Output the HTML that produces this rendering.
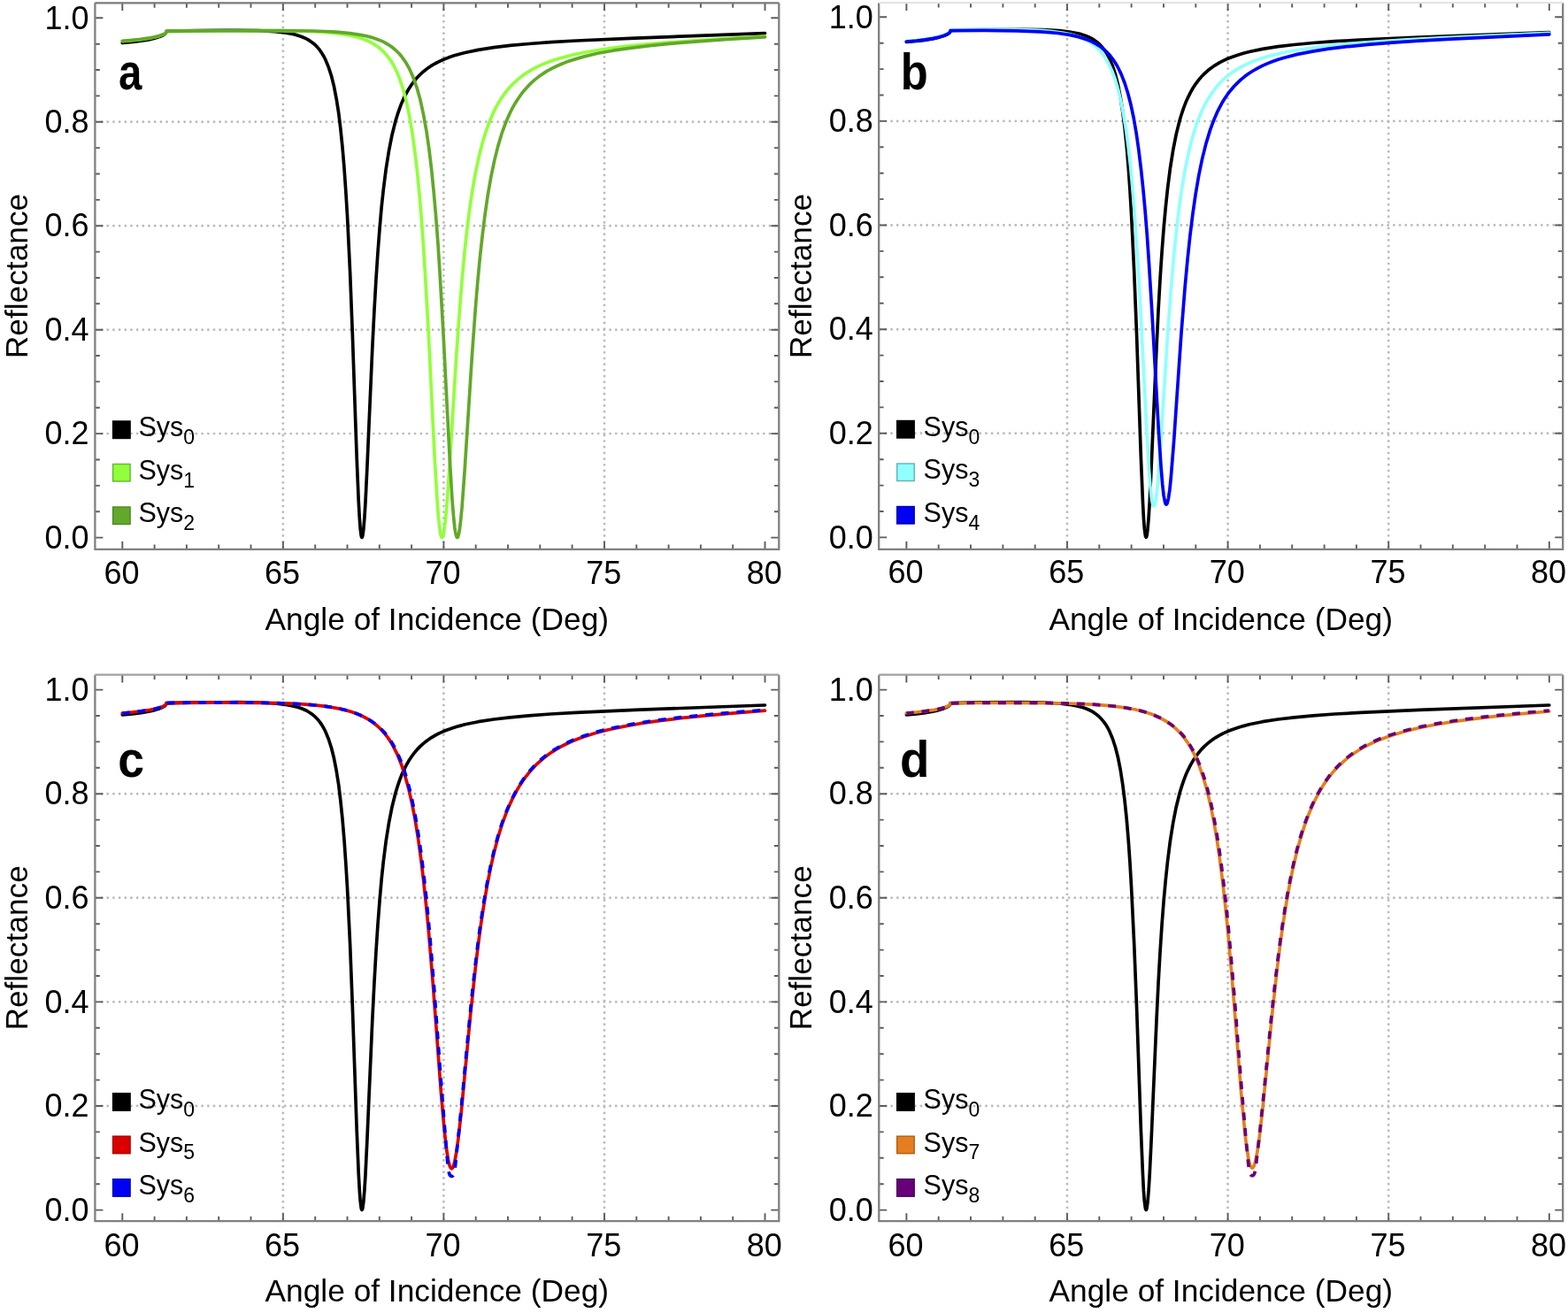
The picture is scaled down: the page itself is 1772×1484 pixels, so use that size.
<!DOCTYPE html>
<html><head><meta charset="utf-8"><title>Reflectance vs Angle of Incidence</title>
<style>
html,body{margin:0;padding:0;background:#fff;}
body{width:1772px;height:1484px;overflow:hidden;}
svg{display:block;}
.grid line{stroke:#bcbcbc;stroke-width:2.9;stroke-dasharray:0 6.68;stroke-linecap:round;}
.tick{stroke:#5c5c5c;stroke-width:1.9;fill:none;}
.frame{stroke:#808080;stroke-width:2.3;fill:none;}
.crv{fill:none;stroke-width:3.7;stroke-linejoin:round;stroke-linecap:round;}
.dsh{stroke-linecap:butt;stroke-linejoin:round;}
text{font-family:'Liberation Sans', Arial, Helvetica, sans-serif;fill:#000;}
.tl{font-size:36px;}
.al{font-size:35.3px;}
.pl{font-size:57px;font-weight:bold;}
.lg{font-size:30.5px;}
.sub{font-size:23px;}
</style></head>
<body>
<svg width="1772" height="1484" viewBox="0 0 1772 1484">
<rect width="1772" height="1484" fill="#fff"/>
<g class="grid"><line x1="319.9" y1="4.3" x2="319.9" y2="619.8"/><line x1="501.4" y1="4.3" x2="501.4" y2="619.8"/><line x1="683.0" y1="4.3" x2="683.0" y2="619.8"/><line x1="108.4" y1="490.1" x2="879.3" y2="490.1"/><line x1="108.4" y1="372.7" x2="879.3" y2="372.7"/><line x1="108.4" y1="255.2" x2="879.3" y2="255.2"/><line x1="108.4" y1="137.8" x2="879.3" y2="137.8"/></g>
<path class="tick" d="M138.3 620.8v-8.8M138.3 3.3v8.8M174.6 620.8v-5.4M174.6 3.3v5.4M210.9 620.8v-5.4M210.9 3.3v5.4M247.2 620.8v-5.4M247.2 3.3v5.4M283.5 620.8v-5.4M283.5 3.3v5.4M319.9 620.8v-8.8M319.9 3.3v8.8M356.2 620.8v-5.4M356.2 3.3v5.4M392.5 620.8v-5.4M392.5 3.3v5.4M428.8 620.8v-5.4M428.8 3.3v5.4M465.1 620.8v-5.4M465.1 3.3v5.4M501.4 620.8v-8.8M501.4 3.3v8.8M537.7 620.8v-5.4M537.7 3.3v5.4M574.0 620.8v-5.4M574.0 3.3v5.4M610.3 620.8v-5.4M610.3 3.3v5.4M646.6 620.8v-5.4M646.6 3.3v5.4M683.0 620.8v-8.8M683.0 3.3v8.8M719.3 620.8v-5.4M719.3 3.3v5.4M755.6 620.8v-5.4M755.6 3.3v5.4M791.9 620.8v-5.4M791.9 3.3v5.4M828.2 620.8v-5.4M828.2 3.3v5.4M864.5 620.8v-8.8M864.5 3.3v8.8M107.4 607.6h9.0M880.3 607.6h-9.0M107.4 578.2h5.4M880.3 578.2h-5.4M107.4 548.9h5.4M880.3 548.9h-5.4M107.4 519.5h5.4M880.3 519.5h-5.4M107.4 490.1h9.0M880.3 490.1h-9.0M107.4 460.8h5.4M880.3 460.8h-5.4M107.4 431.4h5.4M880.3 431.4h-5.4M107.4 402.0h5.4M880.3 402.0h-5.4M107.4 372.7h9.0M880.3 372.7h-9.0M107.4 343.3h5.4M880.3 343.3h-5.4M107.4 314.0h5.4M880.3 314.0h-5.4M107.4 284.6h5.4M880.3 284.6h-5.4M107.4 255.2h9.0M880.3 255.2h-9.0M107.4 225.9h5.4M880.3 225.9h-5.4M107.4 196.5h5.4M880.3 196.5h-5.4M107.4 167.1h5.4M880.3 167.1h-5.4M107.4 137.8h9.0M880.3 137.8h-9.0M107.4 108.4h5.4M880.3 108.4h-5.4M107.4 79.0h5.4M880.3 79.0h-5.4M107.4 49.7h5.4M880.3 49.7h-5.4M107.4 20.3h9.0M880.3 20.3h-9.0"/>
<path class="frame" d="M107.4 3.3V620.8H880.3V3.3"/>
<path class="frame" style="stroke:#7a7a7a" d="M107.4 3.3H880.3"/>
<path class="crv" stroke="#000000" d="M138.3 48.5L149.6 47.4 159.4 46.2 167.7 44.9 174.8 43.3 180.2 41.6 184.4 39.7 185.9 38.7 187.0 37.8 187.7 36.7 188.0 35.3 188.6 35.2 222.5 34.6 267.4 34.4 292.3 34.7 310.6 35.7 322.2 37.0 332.0 38.8 336.2 39.9 340.2 41.2 343.8 42.7 347.3 44.4 350.5 46.4 353.4 48.5 356.2 50.8 358.7 53.4 361.1 56.3 363.4 59.6 365.6 63.2 367.6 67.0 371.2 75.6 374.5 85.8 377.4 97.4 380.1 111.3 382.7 127.6 384.8 145.0 387.0 166.4 389.0 190.2 390.8 216.2 392.5 243.6 395.6 307.4 398.3 377.1 403.2 517.9 405.2 566.0 406.3 585.7 407.2 597.6 408.1 604.9 408.4 606.5 409.0 607.4 409.4 607.1 409.9 605.3 410.8 598.6 411.9 585.4 413.0 567.6 414.8 530.4 420.8 393.3 423.0 350.0 425.0 315.2 427.0 285.0 429.0 259.0 431.1 234.7 433.3 214.1 436.2 191.2 439.5 170.5 443.1 152.2 447.1 136.4 449.3 129.2 451.5 122.8 453.8 116.7 456.4 110.9 459.1 105.5 462.0 100.4 464.9 96.0 468.2 91.6 471.4 87.7 475.1 84.0 478.7 80.7 482.7 77.6 486.9 74.7 491.4 72.0 496.1 69.6 501.2 67.3 506.7 65.1 512.5 63.1 518.8 61.2 525.5 59.5 540.6 56.4 557.9 53.7 576.4 51.4 597.6 49.5 622.3 47.7 651.2 46.0 717.6 43.1 864.5 37.7"/>
<path class="crv" stroke="#92ff3c" d="M138.3 46.6L149.6 45.7 159.4 44.6 167.7 43.4 174.8 42.0 180.2 40.6 184.2 39.1 185.9 38.3 187.1 37.3 187.9 36.3 188.0 35.5 189.1 35.4 245.2 34.8 307.3 34.6 342.0 35.2 355.6 35.7 367.4 36.4 382.3 37.9 394.8 39.9 400.5 41.1 405.5 42.5 410.3 44.0 414.8 45.8 419.0 47.8 423.0 50.1 426.6 52.5 430.1 55.3 433.3 58.3 436.2 61.4 439.1 65.1 441.9 69.0 444.4 73.2 446.8 77.7 449.1 82.7 451.3 88.1 455.3 99.8 459.1 114.1 462.5 130.2 465.6 148.1 468.5 168.7 471.3 191.9 473.6 215.7 476.0 243.5 478.2 273.1 480.3 306.7 484.2 375.1 491.2 518.0 494.0 564.3 495.4 583.4 496.9 597.2 497.6 602.0 498.3 605.3 498.9 606.8 499.2 607.3 499.6 607.5 500.1 607.0 500.7 605.7 501.9 599.5 503.2 589.5 504.7 573.9 507.8 530.6 515.6 404.1 519.6 347.7 522.1 316.6 524.8 287.4 527.5 262.0 530.4 238.7 533.7 216.3 537.3 195.6 541.2 177.4 545.3 161.0 549.9 146.4 554.8 133.5 557.5 127.4 560.2 121.9 563.1 116.6 566.0 111.9 569.3 107.1 572.7 102.6 576.2 98.5 580.0 94.5 584.0 90.8 588.2 87.3 592.5 84.1 597.3 81.0 602.2 78.2 607.4 75.4 612.9 72.9 618.7 70.5 624.9 68.3 631.4 66.2 645.9 62.3 661.7 59.0 679.7 56.0 700.2 53.2 723.6 50.7 750.1 48.4 781.0 46.1 817.7 43.8 864.5 41.1"/>
<path class="crv" stroke="#62a82a" d="M138.3 46.4L149.4 45.4 159.2 44.4 167.5 43.2 174.6 41.9 180.1 40.5 184.1 39.1 185.7 38.3 187.0 37.4 187.7 36.6 188.0 35.5 189.3 35.4 249.8 34.7 317.1 34.6 353.4 35.0 367.6 35.5 379.9 36.2 395.4 37.6 408.4 39.6 414.3 40.8 419.5 42.1 424.4 43.7 429.1 45.4 433.5 47.4 437.5 49.6 441.3 52.0 444.9 54.8 448.2 57.7 451.3 60.8 454.2 64.3 457.1 68.3 459.6 72.3 462.2 76.9 464.5 81.7 466.9 87.3 471.1 99.1 474.9 112.7 478.5 129.1 481.8 147.3 484.9 168.5 487.6 191.0 490.1 216.0 492.5 243.1 494.9 274.3 497.0 307.2 501.0 377.1 508.3 519.6 511.0 564.5 512.5 583.1 513.9 596.7 514.7 601.6 515.4 605.0 516.1 607.0 516.5 607.4 516.8 607.5 517.4 607.0 518.1 605.1 519.4 598.7 520.6 588.6 522.1 573.2 525.2 531.0 533.2 405.3 537.2 350.2 539.7 319.7 542.4 290.9 545.2 265.7 548.1 242.5 551.3 220.2 555.0 199.3 558.8 181.1 562.8 165.1 567.1 150.7 572.0 137.4 574.6 131.4 577.3 125.7 580.2 120.1 583.1 115.2 586.4 110.2 589.6 105.7 593.1 101.4 596.7 97.4 600.5 93.6 604.7 89.9 608.9 86.6 613.4 83.4 618.1 80.4 623.2 77.6 628.5 75.0 634.1 72.5 640.1 70.1 646.5 67.9 660.3 63.9 675.5 60.3 692.6 57.2 712.0 54.3 734.1 51.6 759.2 49.2 788.2 46.8 822.4 44.4 864.5 41.8"/>
<text class="tl" x="100.6" y="619.8" text-anchor="end">0.0</text>
<text class="tl" x="100.6" y="502.3" text-anchor="end">0.2</text>
<text class="tl" x="100.6" y="384.9" text-anchor="end">0.4</text>
<text class="tl" x="100.6" y="267.4" text-anchor="end">0.6</text>
<text class="tl" x="100.6" y="150.0" text-anchor="end">0.8</text>
<text class="tl" x="100.6" y="32.5" text-anchor="end">1.0</text>
<text class="tl" x="137.5" y="659.9" text-anchor="middle">60</text>
<text class="tl" x="319.1" y="659.9" text-anchor="middle">65</text>
<text class="tl" x="500.6" y="659.9" text-anchor="middle">70</text>
<text class="tl" x="682.2" y="659.9" text-anchor="middle">75</text>
<text class="tl" x="863.7" y="659.9" text-anchor="middle">80</text>
<text class="al" x="493.8" y="712.0" text-anchor="middle">Angle of Incidence (Deg)</text>
<text class="al" transform="translate(31.0,312.0) rotate(-90)" x="0" y="0" text-anchor="middle">Reflectance</text>
<text class="pl" transform="translate(134.0,101.0) scale(0.83,1)">a</text>
<rect x="127.6" y="476.0" width="19.5" height="19.5" fill="#000000" stroke="#000000" stroke-width="1.4"/>
<text class="lg" x="156.5" y="493.3">Sys<tspan class="sub" dy="8.8">0</tspan></text>
<rect x="127.6" y="524.5" width="19.5" height="19.5" fill="#92ff3c" stroke="#64b82e" stroke-width="1.4"/>
<text class="lg" x="156.5" y="541.8">Sys<tspan class="sub" dy="8.8">1</tspan></text>
<rect x="127.6" y="573.0" width="19.5" height="19.5" fill="#62a82a" stroke="#4a8a1e" stroke-width="1.4"/>
<text class="lg" x="156.5" y="590.3">Sys<tspan class="sub" dy="8.8">2</tspan></text>
<g class="grid"><line x1="1206.0" y1="4.2" x2="1206.0" y2="619.8"/><line x1="1387.6" y1="4.2" x2="1387.6" y2="619.8"/><line x1="1569.2" y1="4.2" x2="1569.2" y2="619.8"/><line x1="994.2" y1="489.8" x2="1765.2" y2="489.8"/><line x1="994.2" y1="372.2" x2="1765.2" y2="372.2"/><line x1="994.2" y1="254.5" x2="1765.2" y2="254.5"/><line x1="994.2" y1="136.9" x2="1765.2" y2="136.9"/></g>
<path class="tick" d="M1024.4 620.8v-8.8M1024.4 3.2v8.8M1060.7 620.8v-5.4M1060.7 3.2v5.4M1097.0 620.8v-5.4M1097.0 3.2v5.4M1133.4 620.8v-5.4M1133.4 3.2v5.4M1169.7 620.8v-5.4M1169.7 3.2v5.4M1206.0 620.8v-8.8M1206.0 3.2v8.8M1242.3 620.8v-5.4M1242.3 3.2v5.4M1278.6 620.8v-5.4M1278.6 3.2v5.4M1315.0 620.8v-5.4M1315.0 3.2v5.4M1351.3 620.8v-5.4M1351.3 3.2v5.4M1387.6 620.8v-8.8M1387.6 3.2v8.8M1423.9 620.8v-5.4M1423.9 3.2v5.4M1460.2 620.8v-5.4M1460.2 3.2v5.4M1496.6 620.8v-5.4M1496.6 3.2v5.4M1532.9 620.8v-5.4M1532.9 3.2v5.4M1569.2 620.8v-8.8M1569.2 3.2v8.8M1605.5 620.8v-5.4M1605.5 3.2v5.4M1641.8 620.8v-5.4M1641.8 3.2v5.4M1678.2 620.8v-5.4M1678.2 3.2v5.4M1714.5 620.8v-5.4M1714.5 3.2v5.4M1750.8 620.8v-8.8M1750.8 3.2v8.8M993.2 607.4h9.0M1766.2 607.4h-9.0M993.2 578.0h5.4M1766.2 578.0h-5.4M993.2 548.6h5.4M1766.2 548.6h-5.4M993.2 519.2h5.4M1766.2 519.2h-5.4M993.2 489.8h9.0M1766.2 489.8h-9.0M993.2 460.4h5.4M1766.2 460.4h-5.4M993.2 431.0h5.4M1766.2 431.0h-5.4M993.2 401.6h5.4M1766.2 401.6h-5.4M993.2 372.2h9.0M1766.2 372.2h-9.0M993.2 342.8h5.4M1766.2 342.8h-5.4M993.2 313.3h5.4M1766.2 313.3h-5.4M993.2 283.9h5.4M1766.2 283.9h-5.4M993.2 254.5h9.0M1766.2 254.5h-9.0M993.2 225.1h5.4M1766.2 225.1h-5.4M993.2 195.7h5.4M1766.2 195.7h-5.4M993.2 166.3h5.4M1766.2 166.3h-5.4M993.2 136.9h9.0M1766.2 136.9h-9.0M993.2 107.5h5.4M1766.2 107.5h-5.4M993.2 78.1h5.4M1766.2 78.1h-5.4M993.2 48.7h5.4M1766.2 48.7h-5.4M993.2 19.3h9.0M1766.2 19.3h-9.0"/>
<path class="frame" d="M993.2 3.2V620.8H1766.2V3.2"/>
<path class="frame" style="stroke:#e4e4e4" d="M993.2 3.2H1766.2"/>
<path class="crv" stroke="#000000" d="M1024.4 47.5L1035.7 46.5 1045.5 45.3 1053.8 43.9 1060.9 42.3 1066.3 40.6 1070.5 38.7 1072.0 37.8 1073.1 36.8 1073.8 35.8 1074.2 34.3 1074.7 34.3 1108.7 33.6 1153.5 33.4 1178.4 33.7 1196.7 34.7 1208.4 36.0 1218.2 37.8 1222.3 38.9 1226.3 40.2 1230.0 41.7 1233.4 43.4 1236.7 45.4 1239.6 47.5 1242.3 49.9 1244.9 52.5 1247.2 55.3 1249.6 58.6 1251.8 62.3 1253.8 66.1 1257.4 74.7 1260.7 84.9 1263.6 96.5 1266.3 110.4 1268.8 126.8 1271.0 144.2 1273.2 165.6 1275.2 189.4 1277.0 215.4 1278.6 242.9 1281.7 306.8 1284.5 376.6 1289.4 517.6 1291.4 565.8 1292.4 585.5 1293.3 597.4 1294.3 604.7 1294.6 606.3 1295.2 607.2 1295.5 606.9 1296.1 605.1 1297.0 598.4 1298.1 585.2 1299.2 567.3 1301.0 530.1 1307.0 392.8 1309.1 349.4 1311.1 314.6 1313.1 284.4 1315.1 258.3 1317.3 234.0 1319.5 213.3 1322.4 190.4 1325.7 169.7 1329.3 151.4 1333.3 135.5 1335.5 128.3 1337.7 121.9 1340.0 115.8 1342.6 110.1 1345.3 104.6 1348.2 99.5 1351.1 95.1 1354.4 90.7 1357.6 86.8 1361.3 83.1 1364.9 79.8 1368.9 76.7 1373.1 73.8 1377.6 71.1 1382.3 68.6 1387.4 66.3 1392.9 64.2 1398.7 62.2 1405.0 60.3 1411.8 58.5 1426.8 55.4 1444.1 52.7 1462.6 50.5 1483.8 48.5 1508.5 46.7 1537.4 45.1 1603.9 42.1 1750.8 36.7"/>
<path class="crv" stroke="#90ffff" d="M1024.4 46.5L1035.7 45.5 1045.5 44.3 1053.8 42.9 1060.9 41.4 1066.3 39.7 1070.5 37.9 1072.9 36.2 1073.8 35.0 1074.2 33.6 1074.9 33.6 1108.8 33.1 1145.7 33.3 1170.4 34.1 1180.6 34.7 1189.5 35.5 1201.8 37.3 1207.3 38.3 1212.4 39.6 1217.1 41.0 1221.4 42.6 1225.4 44.3 1229.2 46.3 1232.9 48.5 1236.1 50.9 1239.4 53.7 1242.3 56.6 1245.0 59.8 1247.8 63.4 1250.1 67.1 1252.5 71.2 1256.5 79.7 1260.3 90.0 1263.7 101.6 1266.8 114.5 1269.7 129.3 1272.5 146.2 1275.0 165.1 1277.6 187.7 1279.7 210.5 1281.7 234.5 1285.7 292.8 1289.2 354.1 1295.9 487.3 1298.4 530.0 1299.9 548.9 1301.2 561.2 1301.9 566.2 1302.6 569.7 1303.2 571.3 1303.5 571.9 1303.9 572.1 1304.4 571.7 1305.0 570.5 1306.1 565.7 1307.3 556.3 1308.6 543.5 1311.7 502.0 1319.7 376.7 1323.7 322.8 1326.4 291.5 1329.1 264.2 1332.0 239.3 1335.1 216.8 1338.7 194.7 1342.6 175.6 1346.7 158.4 1351.3 143.3 1353.8 136.1 1356.4 129.7 1359.1 123.5 1361.8 118.0 1364.9 112.4 1368.0 107.5 1371.3 102.8 1374.9 98.1 1378.5 94.1 1382.3 90.2 1386.3 86.7 1390.7 83.2 1395.2 80.1 1400.1 77.1 1405.2 74.3 1410.7 71.7 1416.5 69.3 1422.6 67.0 1429.2 64.8 1436.1 62.9 1451.3 59.2 1468.8 56.0 1487.7 53.3 1509.1 50.9 1533.8 48.7 1562.5 46.6 1594.1 44.7 1631.9 42.7 1750.8 37.4"/>
<path class="crv" stroke="#0000f5" d="M1024.4 47.0L1035.7 46.0 1045.5 44.9 1053.8 43.6 1060.9 42.1 1066.3 40.5 1070.5 38.7 1073.1 36.9 1073.8 35.9 1074.2 34.6 1074.7 34.6 1112.1 34.3 1149.3 34.8 1175.3 35.8 1186.0 36.6 1195.5 37.5 1208.5 39.4 1214.4 40.6 1219.6 41.9 1224.5 43.4 1229.2 45.1 1233.6 46.9 1237.6 49.0 1241.4 51.3 1244.9 53.7 1248.3 56.5 1251.4 59.4 1254.3 62.6 1257.2 66.3 1259.9 70.3 1262.5 74.5 1264.8 79.0 1267.0 83.6 1271.0 93.8 1274.6 105.3 1278.1 118.8 1281.2 133.5 1284.1 150.2 1286.8 169.0 1289.5 191.3 1291.9 214.0 1294.1 238.0 1296.3 265.4 1298.4 296.3 1302.2 358.4 1309.3 486.2 1312.1 528.0 1313.7 547.4 1315.1 560.0 1316.6 567.7 1317.3 569.6 1317.7 570.1 1318.0 570.2 1318.6 569.8 1319.3 568.2 1320.6 562.6 1321.9 553.5 1323.3 539.7 1326.6 498.7 1334.9 377.6 1339.1 325.0 1342.0 293.6 1344.9 266.2 1348.0 241.2 1351.1 219.8 1354.7 198.5 1358.7 179.1 1362.9 162.4 1367.6 146.9 1370.2 139.8 1372.7 133.4 1375.4 127.2 1378.2 121.7 1381.2 116.0 1384.3 111.0 1387.6 106.2 1391.1 101.7 1394.7 97.5 1398.5 93.6 1402.5 89.9 1406.8 86.3 1411.4 83.0 1416.1 80.0 1421.2 77.1 1426.5 74.4 1432.1 71.9 1438.1 69.5 1444.4 67.3 1451.3 65.2 1466.2 61.4 1483.1 58.1 1501.5 55.2 1522.2 52.7 1545.8 50.4 1573.2 48.2 1603.5 46.2 1639.8 44.1 1750.8 38.8"/>
<text class="tl" x="986.7" y="619.6" text-anchor="end">0.0</text>
<text class="tl" x="986.7" y="502.0" text-anchor="end">0.2</text>
<text class="tl" x="986.7" y="384.4" text-anchor="end">0.4</text>
<text class="tl" x="986.7" y="266.7" text-anchor="end">0.6</text>
<text class="tl" x="986.7" y="149.1" text-anchor="end">0.8</text>
<text class="tl" x="986.7" y="31.5" text-anchor="end">1.0</text>
<text class="tl" x="1023.6" y="659.4" text-anchor="middle">60</text>
<text class="tl" x="1205.2" y="659.4" text-anchor="middle">65</text>
<text class="tl" x="1386.8" y="659.4" text-anchor="middle">70</text>
<text class="tl" x="1568.4" y="659.4" text-anchor="middle">75</text>
<text class="tl" x="1750.0" y="659.4" text-anchor="middle">80</text>
<text class="al" x="1379.7" y="711.5" text-anchor="middle">Angle of Incidence (Deg)</text>
<text class="al" transform="translate(917.1,312.0) rotate(-90)" x="0" y="0" text-anchor="middle">Reflectance</text>
<text class="pl" transform="translate(1017.8,101.0) scale(0.89,1)">b</text>
<rect x="1013.7" y="475.5" width="19.5" height="19.5" fill="#000000" stroke="#000000" stroke-width="1.4"/>
<text class="lg" x="1043.6" y="492.8">Sys<tspan class="sub" dy="8.8">0</tspan></text>
<rect x="1013.7" y="524.0" width="19.5" height="19.5" fill="#90ffff" stroke="#5cb4b4" stroke-width="1.4"/>
<text class="lg" x="1043.6" y="541.3">Sys<tspan class="sub" dy="8.8">3</tspan></text>
<rect x="1013.7" y="572.5" width="19.5" height="19.5" fill="#0000f5" stroke="#0000b0" stroke-width="1.4"/>
<text class="lg" x="1043.6" y="589.8">Sys<tspan class="sub" dy="8.8">4</tspan></text>
<g class="grid"><line x1="319.9" y1="763.7" x2="319.9" y2="1379.1"/><line x1="501.4" y1="763.7" x2="501.4" y2="1379.1"/><line x1="683.0" y1="763.7" x2="683.0" y2="1379.1"/><line x1="108.4" y1="1250.0" x2="879.3" y2="1250.0"/><line x1="108.4" y1="1132.4" x2="879.3" y2="1132.4"/><line x1="108.4" y1="1014.8" x2="879.3" y2="1014.8"/><line x1="108.4" y1="897.2" x2="879.3" y2="897.2"/></g>
<path class="tick" d="M138.3 1380.1v-8.8M138.3 762.7v8.8M174.6 1380.1v-5.4M174.6 762.7v5.4M210.9 1380.1v-5.4M210.9 762.7v5.4M247.2 1380.1v-5.4M247.2 762.7v5.4M283.5 1380.1v-5.4M283.5 762.7v5.4M319.9 1380.1v-8.8M319.9 762.7v8.8M356.2 1380.1v-5.4M356.2 762.7v5.4M392.5 1380.1v-5.4M392.5 762.7v5.4M428.8 1380.1v-5.4M428.8 762.7v5.4M465.1 1380.1v-5.4M465.1 762.7v5.4M501.4 1380.1v-8.8M501.4 762.7v8.8M537.7 1380.1v-5.4M537.7 762.7v5.4M574.0 1380.1v-5.4M574.0 762.7v5.4M610.3 1380.1v-5.4M610.3 762.7v5.4M646.6 1380.1v-5.4M646.6 762.7v5.4M683.0 1380.1v-8.8M683.0 762.7v8.8M719.3 1380.1v-5.4M719.3 762.7v5.4M755.6 1380.1v-5.4M755.6 762.7v5.4M791.9 1380.1v-5.4M791.9 762.7v5.4M828.2 1380.1v-5.4M828.2 762.7v5.4M864.5 1380.1v-8.8M864.5 762.7v8.8M107.4 1367.6h9.0M880.3 1367.6h-9.0M107.4 1338.2h5.4M880.3 1338.2h-5.4M107.4 1308.8h5.4M880.3 1308.8h-5.4M107.4 1279.4h5.4M880.3 1279.4h-5.4M107.4 1250.0h9.0M880.3 1250.0h-9.0M107.4 1220.6h5.4M880.3 1220.6h-5.4M107.4 1191.2h5.4M880.3 1191.2h-5.4M107.4 1161.8h5.4M880.3 1161.8h-5.4M107.4 1132.4h9.0M880.3 1132.4h-9.0M107.4 1103.0h5.4M880.3 1103.0h-5.4M107.4 1073.6h5.4M880.3 1073.6h-5.4M107.4 1044.2h5.4M880.3 1044.2h-5.4M107.4 1014.8h9.0M880.3 1014.8h-9.0M107.4 985.4h5.4M880.3 985.4h-5.4M107.4 956.0h5.4M880.3 956.0h-5.4M107.4 926.6h5.4M880.3 926.6h-5.4M107.4 897.2h9.0M880.3 897.2h-9.0M107.4 867.8h5.4M880.3 867.8h-5.4M107.4 838.4h5.4M880.3 838.4h-5.4M107.4 809.0h5.4M880.3 809.0h-5.4M107.4 779.6h9.0M880.3 779.6h-9.0"/>
<path class="frame" d="M107.4 762.7V1380.1H880.3V762.7"/>
<path class="frame" style="stroke:#a0a0a0" d="M107.4 762.7H880.3"/>
<path class="crv" stroke="#000000" d="M138.3 807.8L149.6 806.8 159.4 805.6 167.7 804.2 174.8 802.6 180.2 800.9 184.4 799.0 185.9 798.1 187.0 797.1 187.7 796.1 188.0 794.6 188.6 794.6 222.5 793.9 267.4 793.7 292.3 794.0 310.6 795.0 322.2 796.3 332.0 798.1 336.2 799.2 340.2 800.5 343.8 802.0 347.3 803.7 350.5 805.7 353.4 807.8 356.2 810.2 358.7 812.8 361.1 815.6 363.4 818.9 365.6 822.5 367.6 826.4 371.2 835.0 374.5 845.2 377.4 856.8 380.1 870.7 382.7 887.0 384.8 904.5 387.0 925.8 389.0 949.7 390.8 975.7 392.5 1003.2 395.6 1067.1 398.3 1136.9 403.2 1277.8 405.2 1326.0 406.3 1345.7 407.2 1357.6 408.1 1364.9 408.4 1366.5 409.0 1367.4 409.4 1367.1 409.9 1365.3 410.8 1358.6 411.9 1345.4 413.0 1327.5 414.8 1290.3 420.8 1153.0 423.0 1109.7 425.0 1074.9 427.0 1044.7 429.0 1018.6 431.1 994.3 433.3 973.6 436.2 950.7 439.5 930.0 443.1 911.7 447.1 895.8 449.3 888.6 451.5 882.2 453.8 876.1 456.4 870.3 459.1 864.9 462.0 859.8 464.9 855.4 468.2 851.0 471.4 847.1 475.1 843.4 478.7 840.1 482.7 837.0 486.9 834.1 491.4 831.4 496.1 828.9 501.2 826.6 506.7 824.5 512.5 822.5 518.8 820.6 525.5 818.8 540.6 815.7 557.9 813.0 576.4 810.8 597.6 808.8 622.3 807.0 651.2 805.4 717.6 802.4 864.5 797.0"/>
<path class="crv" stroke="#da0000" d="M138.3 806.0L149.4 805.0 159.2 803.9 167.5 802.7 174.6 801.3 180.1 799.9 184.1 798.5 185.7 797.6 187.0 796.7 187.7 795.9 188.0 794.7 189.5 794.6 208.0 794.3 240.7 794.1 293.3 794.3 311.9 794.6 328.0 795.2 342.2 795.9 354.7 796.9 370.7 798.7 384.3 801.1 390.5 802.6 396.3 804.2 401.5 806.0 406.6 808.0 411.4 810.3 415.9 812.8 420.1 815.5 424.1 818.5 427.9 821.8 431.3 825.2 434.6 828.9 437.9 833.1 440.8 837.4 443.5 841.9 446.0 846.6 448.6 851.8 453.3 863.2 457.6 876.2 461.8 891.4 465.6 908.1 469.3 927.2 472.5 947.5 475.6 969.7 478.5 993.8 481.4 1021.2 484.2 1050.0 489.1 1109.2 498.5 1235.6 502.3 1279.0 504.5 1298.1 506.5 1310.8 507.6 1315.7 508.5 1318.5 509.4 1320.2 510.3 1320.8 511.2 1320.3 512.1 1318.8 513.0 1316.2 513.9 1312.7 515.7 1302.9 517.7 1288.6 521.4 1255.6 531.5 1148.3 537.2 1094.8 540.4 1067.6 543.7 1043.2 547.2 1020.3 550.6 1000.2 554.6 979.9 558.8 961.7 563.1 945.4 567.8 930.3 572.9 916.6 578.4 904.2 584.2 893.1 587.3 887.9 590.5 882.9 594.2 877.8 597.8 873.3 601.6 868.9 605.6 864.7 609.8 860.8 614.1 857.1 618.7 853.6 623.6 850.1 628.7 846.9 633.9 843.9 639.6 841.0 645.4 838.3 651.5 835.8 658.1 833.3 672.1 828.8 687.5 824.7 704.6 821.1 723.6 817.7 745.0 814.6 769.0 811.7 796.4 808.8 827.8 806.1 864.5 803.2"/>
<path class="crv dsh" stroke="#0000f5" d="M138.3 806.0L146.7 805.3M155.5 804.4L164.3 803.2M173.1 801.7L177.9 800.5 181.7 799.4M188.6 794.7L197.5 794.4M206.4 794.3L215.3 794.2M224.2 794.2L233.1 794.1M242.0 794.1L250.9 794.1M259.8 794.1L268.7 794.1M277.6 794.1L286.4 794.2M295.3 794.3L304.2 794.5M313.1 794.7L322.0 795.0M330.9 795.3L339.8 795.8M348.6 796.4L357.4 797.1M366.2 798.1L374.9 799.4M383.6 801.0L392.2 803.0M400.6 805.6L408.7 809.0M416.5 813.1L420.2 815.4 423.8 818.0M430.5 823.8L433.7 827.0 436.5 830.3M441.7 837.4L446.1 845.0M450.0 852.9L453.4 861.0M456.4 869.3L459.0 877.6M461.4 886.1L463.6 894.6M465.5 903.2L467.3 911.8M469.0 920.4L470.5 929.1M472.0 937.7L473.3 946.4M474.6 955.1L475.8 963.8M476.9 972.5L478.0 981.3M479.0 990.0L480.0 998.7M481.0 1007.5L481.9 1016.2M482.7 1025.0L483.6 1033.7M484.4 1042.5L485.2 1051.2M486.0 1060.0L486.7 1068.8M487.5 1077.6L488.2 1086.4M488.9 1095.2L489.6 1104.0M490.3 1112.8L491.0 1121.6M491.6 1130.5L492.3 1139.3M492.9 1148.1L493.6 1156.9M494.2 1165.7L494.9 1174.5M495.5 1183.4L496.2 1192.2M496.8 1201.0L497.5 1209.8M498.1 1218.6L498.8 1227.4M499.5 1236.2L500.2 1245.0M500.9 1253.9L501.6 1262.7M502.3 1271.5L503.0 1280.3M503.7 1289.1L504.4 1297.9M505.2 1306.7L505.9 1315.5M507.1 1324.3L508.1 1327.6 509.2 1329.1 509.9 1329.4 510.8 1329.4 511.6 1329.1 512.2 1328.3M514.3 1319.8L515.2 1311.0M516.1 1302.2L517.0 1293.4M518.0 1284.6L518.9 1275.9M519.8 1267.1L520.6 1258.3M521.5 1249.5L522.3 1240.7M523.2 1231.9L524.0 1223.1M524.8 1214.3L525.6 1205.5M526.4 1196.7L527.3 1187.9M528.1 1179.1L528.9 1170.3M529.8 1161.5L530.6 1152.7M531.5 1143.9L532.3 1135.1M533.2 1126.3L534.2 1117.5M535.1 1108.7L536.1 1099.9M537.1 1091.1L538.1 1082.4M539.2 1073.6L540.3 1064.8M541.4 1056.1L542.6 1047.3M543.9 1038.5L545.2 1029.8M546.5 1021.1L548.0 1012.3M549.5 1003.6L551.1 994.9M552.8 986.3L554.6 977.6M556.5 969.0L558.6 960.4M560.8 951.9L563.2 943.3M565.8 934.9L568.7 926.5M571.8 918.3L575.2 910.1M578.9 902.0L583.1 894.1M587.6 886.5L592.6 879.1M598.1 872.0L604.1 865.3M610.5 859.2L617.4 853.5M624.7 848.4L632.4 843.8M640.3 839.7L648.5 836.0M656.8 832.8L665.3 829.9M673.8 827.4L682.5 825.1M691.2 823.0L699.9 821.2M708.7 819.5L717.4 817.9M726.2 816.5L735.0 815.2M743.9 813.9L752.7 812.8M761.5 811.7L770.4 810.7M779.3 809.8L788.1 808.9M797.0 808.0L805.9 807.2M814.7 806.4L823.6 805.7M832.5 804.9L841.4 804.2M850.3 803.5L859.2 802.9"/>
<text class="tl" x="100.6" y="1379.8" text-anchor="end">0.0</text>
<text class="tl" x="100.6" y="1262.2" text-anchor="end">0.2</text>
<text class="tl" x="100.6" y="1144.6" text-anchor="end">0.4</text>
<text class="tl" x="100.6" y="1027.0" text-anchor="end">0.6</text>
<text class="tl" x="100.6" y="909.4" text-anchor="end">0.8</text>
<text class="tl" x="100.6" y="791.8" text-anchor="end">1.0</text>
<text class="tl" x="137.5" y="1420.2" text-anchor="middle">60</text>
<text class="tl" x="319.1" y="1420.2" text-anchor="middle">65</text>
<text class="tl" x="500.6" y="1420.2" text-anchor="middle">70</text>
<text class="tl" x="682.2" y="1420.2" text-anchor="middle">75</text>
<text class="tl" x="863.7" y="1420.2" text-anchor="middle">80</text>
<text class="al" x="493.8" y="1471.2" text-anchor="middle">Angle of Incidence (Deg)</text>
<text class="al" transform="translate(31.0,1071.4) rotate(-90)" x="0" y="0" text-anchor="middle">Reflectance</text>
<text class="pl" transform="translate(133.2,877.6) scale(0.94,1)">c</text>
<rect x="127.6" y="1235.7" width="19.5" height="19.5" fill="#000000" stroke="#000000" stroke-width="1.4"/>
<text class="lg" x="156.5" y="1253.0">Sys<tspan class="sub" dy="8.8">0</tspan></text>
<rect x="127.6" y="1284.2" width="19.5" height="19.5" fill="#da0000" stroke="#a80000" stroke-width="1.4"/>
<text class="lg" x="156.5" y="1301.5">Sys<tspan class="sub" dy="8.8">5</tspan></text>
<rect x="127.6" y="1332.7" width="19.5" height="19.5" fill="#0000f5" stroke="#0000b0" stroke-width="1.4"/>
<text class="lg" x="156.5" y="1350.0">Sys<tspan class="sub" dy="8.8">6</tspan></text>
<g class="grid"><line x1="1206.0" y1="763.7" x2="1206.0" y2="1379.1"/><line x1="1387.6" y1="763.7" x2="1387.6" y2="1379.1"/><line x1="1569.2" y1="763.7" x2="1569.2" y2="1379.1"/><line x1="994.3" y1="1250.0" x2="1765.2" y2="1250.0"/><line x1="994.3" y1="1132.4" x2="1765.2" y2="1132.4"/><line x1="994.3" y1="1014.8" x2="1765.2" y2="1014.8"/><line x1="994.3" y1="897.2" x2="1765.2" y2="897.2"/></g>
<path class="tick" d="M1024.4 1380.1v-8.8M1024.4 762.7v8.8M1060.7 1380.1v-5.4M1060.7 762.7v5.4M1097.0 1380.1v-5.4M1097.0 762.7v5.4M1133.4 1380.1v-5.4M1133.4 762.7v5.4M1169.7 1380.1v-5.4M1169.7 762.7v5.4M1206.0 1380.1v-8.8M1206.0 762.7v8.8M1242.3 1380.1v-5.4M1242.3 762.7v5.4M1278.6 1380.1v-5.4M1278.6 762.7v5.4M1315.0 1380.1v-5.4M1315.0 762.7v5.4M1351.3 1380.1v-5.4M1351.3 762.7v5.4M1387.6 1380.1v-8.8M1387.6 762.7v8.8M1423.9 1380.1v-5.4M1423.9 762.7v5.4M1460.2 1380.1v-5.4M1460.2 762.7v5.4M1496.6 1380.1v-5.4M1496.6 762.7v5.4M1532.9 1380.1v-5.4M1532.9 762.7v5.4M1569.2 1380.1v-8.8M1569.2 762.7v8.8M1605.5 1380.1v-5.4M1605.5 762.7v5.4M1641.8 1380.1v-5.4M1641.8 762.7v5.4M1678.2 1380.1v-5.4M1678.2 762.7v5.4M1714.5 1380.1v-5.4M1714.5 762.7v5.4M1750.8 1380.1v-8.8M1750.8 762.7v8.8M993.3 1367.6h9.0M1766.2 1367.6h-9.0M993.3 1338.2h5.4M1766.2 1338.2h-5.4M993.3 1308.8h5.4M1766.2 1308.8h-5.4M993.3 1279.4h5.4M1766.2 1279.4h-5.4M993.3 1250.0h9.0M1766.2 1250.0h-9.0M993.3 1220.6h5.4M1766.2 1220.6h-5.4M993.3 1191.2h5.4M1766.2 1191.2h-5.4M993.3 1161.8h5.4M1766.2 1161.8h-5.4M993.3 1132.4h9.0M1766.2 1132.4h-9.0M993.3 1103.0h5.4M1766.2 1103.0h-5.4M993.3 1073.6h5.4M1766.2 1073.6h-5.4M993.3 1044.2h5.4M1766.2 1044.2h-5.4M993.3 1014.8h9.0M1766.2 1014.8h-9.0M993.3 985.4h5.4M1766.2 985.4h-5.4M993.3 956.0h5.4M1766.2 956.0h-5.4M993.3 926.6h5.4M1766.2 926.6h-5.4M993.3 897.2h9.0M1766.2 897.2h-9.0M993.3 867.8h5.4M1766.2 867.8h-5.4M993.3 838.4h5.4M1766.2 838.4h-5.4M993.3 809.0h5.4M1766.2 809.0h-5.4M993.3 779.6h9.0M1766.2 779.6h-9.0"/>
<path class="frame" d="M993.3 762.7V1380.1H1766.2V762.7"/>
<path class="frame" style="stroke:#a0a0a0" d="M993.3 762.7H1766.2"/>
<path class="crv" stroke="#000000" d="M1024.4 807.8L1035.7 806.8 1045.5 805.6 1053.8 804.2 1060.9 802.6 1066.3 800.9 1070.5 799.0 1072.0 798.1 1073.1 797.1 1073.8 796.1 1074.2 794.6 1074.7 794.6 1108.7 793.9 1153.5 793.7 1178.4 794.0 1196.7 795.0 1208.4 796.3 1218.2 798.1 1222.3 799.2 1226.3 800.5 1230.0 802.0 1233.4 803.7 1236.7 805.7 1239.6 807.8 1242.3 810.2 1244.9 812.8 1247.2 815.6 1249.6 818.9 1251.8 822.5 1253.8 826.4 1257.4 835.0 1260.7 845.2 1263.6 856.8 1266.3 870.7 1268.8 887.0 1271.0 904.5 1273.2 925.8 1275.2 949.7 1277.0 975.7 1278.6 1003.2 1281.7 1067.1 1284.5 1136.9 1289.4 1277.8 1291.4 1326.0 1292.4 1345.7 1293.3 1357.6 1294.3 1364.9 1294.6 1366.5 1295.2 1367.4 1295.5 1367.1 1296.1 1365.3 1297.0 1358.6 1298.1 1345.4 1299.2 1327.5 1301.0 1290.3 1307.0 1153.0 1309.1 1109.7 1311.1 1074.9 1313.1 1044.7 1315.1 1018.6 1317.3 994.3 1319.5 973.6 1322.4 950.7 1325.7 930.0 1329.3 911.7 1333.3 895.8 1335.5 888.6 1337.7 882.2 1340.0 876.1 1342.6 870.3 1345.3 864.9 1348.2 859.8 1351.1 855.4 1354.4 851.0 1357.6 847.1 1361.3 843.4 1364.9 840.1 1368.9 837.0 1373.1 834.1 1377.6 831.4 1382.3 828.9 1387.4 826.6 1392.9 824.5 1398.7 822.5 1405.0 820.6 1411.8 818.8 1426.8 815.7 1444.1 813.0 1462.6 810.8 1483.8 808.8 1508.5 807.0 1537.4 805.4 1603.9 802.4 1750.8 797.0"/>
<path class="crv" stroke="#e47e1f" d="M1024.4 806.0L1035.5 805.0 1045.3 803.9 1053.6 802.7 1060.7 801.4 1066.2 800.0 1070.2 798.5 1071.8 797.7 1073.1 796.8 1073.8 796.0 1074.2 794.9 1075.6 794.8 1096.1 794.5 1131.0 794.3 1185.8 794.6 1205.5 795.0 1222.5 795.6 1237.6 796.4 1250.9 797.4 1267.7 799.3 1275.2 800.5 1282.1 801.8 1288.6 803.3 1294.6 804.9 1300.3 806.8 1305.5 808.8 1310.4 811.1 1315.1 813.6 1319.7 816.4 1323.9 819.4 1327.9 822.7 1331.7 826.3 1335.1 830.0 1338.6 834.3 1341.7 838.6 1344.6 843.2 1347.3 848.0 1350.0 853.3 1352.6 858.9 1355.1 865.1 1359.6 878.1 1364.0 893.1 1368.0 909.8 1371.8 928.8 1375.3 949.1 1378.3 970.1 1381.4 994.1 1384.5 1021.4 1387.4 1050.3 1392.7 1110.1 1402.7 1235.8 1406.7 1278.5 1408.8 1296.6 1411.0 1309.9 1412.1 1314.6 1413.2 1317.8 1414.1 1319.4 1414.7 1319.9 1415.2 1320.1 1416.1 1319.5 1417.0 1318.0 1417.9 1315.6 1418.8 1312.3 1420.8 1302.3 1423.0 1287.4 1427.0 1252.8 1437.4 1148.9 1443.2 1096.0 1446.4 1069.8 1449.7 1046.1 1453.2 1023.9 1456.6 1004.1 1460.4 984.9 1464.6 966.6 1469.0 950.1 1473.7 934.9 1478.8 920.8 1484.0 908.5 1489.7 897.3 1495.8 886.9 1499.3 881.9 1502.7 877.2 1506.5 872.6 1510.4 868.3 1514.4 864.3 1518.7 860.3 1523.1 856.6 1527.8 853.1 1532.7 849.7 1537.8 846.5 1543.0 843.6 1548.7 840.7 1554.5 838.0 1560.7 835.4 1573.9 830.7 1588.4 826.4 1604.4 822.5 1622.2 819.0 1642.2 815.6 1664.5 812.6 1689.6 809.6 1718.1 806.8 1750.8 804.0"/>
<path class="crv dsh" stroke="#68007a" d="M1024.4 806.0L1032.7 805.3M1041.5 804.4L1050.3 803.2M1059.1 801.7L1063.8 800.6 1067.7 799.5M1074.7 794.8L1083.6 794.6M1092.5 794.5L1101.4 794.4M1110.2 794.4L1119.1 794.3M1128.0 794.3L1136.9 794.3M1145.8 794.3L1154.7 794.3M1163.6 794.4L1172.5 794.4M1181.3 794.5L1190.2 794.7M1199.1 794.8L1208.0 795.1M1216.9 795.4L1225.8 795.7M1234.6 796.2L1243.5 796.8M1252.3 797.5L1261.1 798.4M1269.8 799.6L1278.5 801.1M1287.1 802.9L1295.7 805.3M1304.0 808.2L1312.0 811.8M1319.7 816.2L1323.3 818.7 1326.8 821.4M1333.4 827.3L1336.4 830.5 1339.2 833.9M1344.2 841.1L1348.6 848.7M1352.5 856.6L1355.9 864.7M1358.9 873.0L1361.6 881.3M1364.0 889.8L1366.2 898.3M1368.3 906.8L1370.1 915.4M1371.8 924.1L1373.4 932.7M1374.9 941.4L1376.3 950.0M1377.7 958.7L1378.9 967.4M1380.1 976.1L1381.2 984.9M1382.3 993.6L1383.3 1002.3M1384.3 1011.0L1385.3 1019.8M1386.2 1028.5L1387.1 1037.3M1388.0 1046.0L1388.8 1054.8M1389.6 1063.6L1390.4 1072.4M1391.2 1081.2L1391.9 1090.0M1392.7 1098.8L1393.4 1107.6M1394.1 1116.4L1394.9 1125.2M1395.6 1134.0L1396.3 1142.8M1397.0 1151.7L1397.6 1160.5M1398.3 1169.3L1399.0 1178.1M1399.7 1186.9L1400.4 1195.7M1401.1 1204.5L1401.8 1213.4M1402.5 1222.2L1403.2 1231.0M1404.0 1239.8L1404.7 1248.6M1405.5 1257.4L1406.2 1266.2M1407.0 1275.0L1407.7 1283.8M1408.6 1292.6L1409.4 1301.4M1410.2 1310.2L1411.2 1319.0M1413.2 1327.6L1413.9 1328.4 1414.7 1328.7 1415.6 1328.7 1416.5 1328.3 1417.6 1326.7 1418.4 1323.7M1419.7 1315.0L1420.6 1306.2M1421.6 1297.4L1422.7 1288.6M1423.7 1279.8L1424.6 1271.0M1425.5 1262.3L1426.4 1253.5M1427.3 1244.7L1428.2 1235.9M1429.1 1227.1L1430.0 1218.3M1430.8 1209.5L1431.7 1200.7M1432.6 1191.9L1433.4 1183.1M1434.3 1174.3L1435.2 1165.5M1436.0 1156.7L1436.9 1147.9M1437.9 1139.1L1438.8 1130.3M1439.8 1121.5L1440.7 1112.7M1441.7 1104.0L1442.8 1095.2M1443.8 1086.4L1444.9 1077.6M1446.1 1068.9L1447.2 1060.1M1448.5 1051.3L1449.7 1042.6M1451.1 1033.8L1452.4 1025.1M1453.9 1016.4L1455.4 1007.7M1457.1 999.0L1458.8 990.3M1460.6 981.7L1462.5 973.1M1464.6 964.5L1466.8 955.9M1469.2 947.4L1471.8 938.9M1474.6 930.6L1477.7 922.3M1481.0 914.1L1484.7 906.0M1488.7 898.1L1493.1 890.4M1498.0 882.9L1503.2 875.7M1509.0 868.9L1515.2 862.5M1521.9 856.6L1529.0 851.2M1536.5 846.3L1544.2 841.9M1552.3 838.0L1560.5 834.5M1568.9 831.5L1577.4 828.7M1585.9 826.2L1594.6 824.0M1603.2 821.9L1612.0 820.1M1620.7 818.4L1629.5 816.9M1638.3 815.5L1647.1 814.1M1655.9 812.9L1664.7 811.8M1673.6 810.7L1682.4 809.7M1691.3 808.7L1700.1 807.8M1709.0 806.9L1717.9 806.1M1726.7 805.2L1735.6 804.5M1744.5 803.7L1750.8 803.2"/>
<text class="tl" x="986.7" y="1379.8" text-anchor="end">0.0</text>
<text class="tl" x="986.7" y="1262.2" text-anchor="end">0.2</text>
<text class="tl" x="986.7" y="1144.6" text-anchor="end">0.4</text>
<text class="tl" x="986.7" y="1027.0" text-anchor="end">0.6</text>
<text class="tl" x="986.7" y="909.4" text-anchor="end">0.8</text>
<text class="tl" x="986.7" y="791.8" text-anchor="end">1.0</text>
<text class="tl" x="1023.6" y="1420.2" text-anchor="middle">60</text>
<text class="tl" x="1205.2" y="1420.2" text-anchor="middle">65</text>
<text class="tl" x="1386.8" y="1420.2" text-anchor="middle">70</text>
<text class="tl" x="1568.4" y="1420.2" text-anchor="middle">75</text>
<text class="tl" x="1750.0" y="1420.2" text-anchor="middle">80</text>
<text class="al" x="1379.8" y="1471.2" text-anchor="middle">Angle of Incidence (Deg)</text>
<text class="al" transform="translate(917.1,1071.4) rotate(-90)" x="0" y="0" text-anchor="middle">Reflectance</text>
<text class="pl" transform="translate(1017.0,877.6) scale(0.96,1)">d</text>
<rect x="1013.7" y="1235.7" width="19.5" height="19.5" fill="#000000" stroke="#000000" stroke-width="1.4"/>
<text class="lg" x="1043.6" y="1253.0">Sys<tspan class="sub" dy="8.8">0</tspan></text>
<rect x="1013.7" y="1284.2" width="19.5" height="19.5" fill="#e47e1f" stroke="#b06010" stroke-width="1.4"/>
<text class="lg" x="1043.6" y="1301.5">Sys<tspan class="sub" dy="8.8">7</tspan></text>
<rect x="1013.7" y="1332.7" width="19.5" height="19.5" fill="#68007a" stroke="#4a0058" stroke-width="1.4"/>
<text class="lg" x="1043.6" y="1350.0">Sys<tspan class="sub" dy="8.8">8</tspan></text>
</svg>
</body></html>
